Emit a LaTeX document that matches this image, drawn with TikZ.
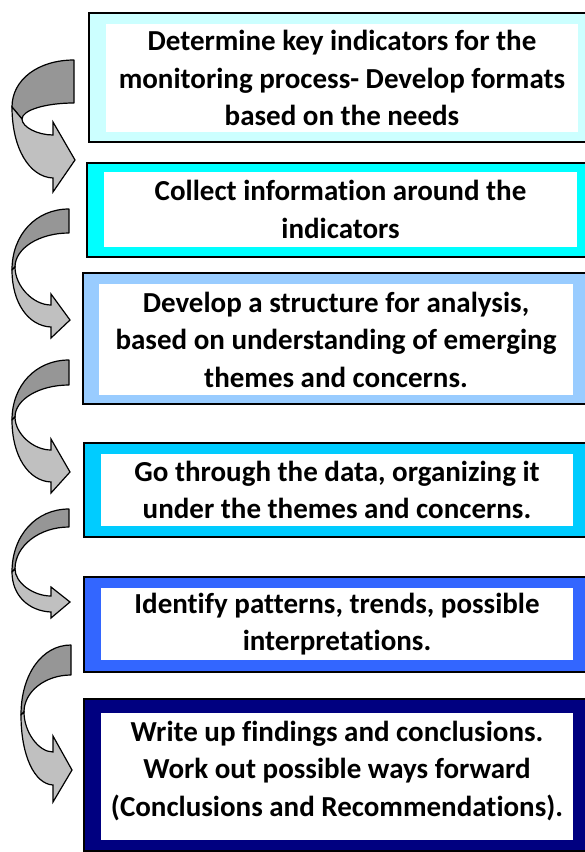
\documentclass[tikz,border=0pt]{standalone}
\usepackage{fontspec}
\setmainfont{Carlito}[Ligatures=NoCommon]
\definecolor{cA}{HTML}{CCFFFF}
\definecolor{cB}{HTML}{00FFFF}
\definecolor{cC}{HTML}{99CCFF}
\definecolor{cD}{HTML}{00CCFF}
\definecolor{cE}{HTML}{3366FF}
\definecolor{cF}{HTML}{000080}
\definecolor{arrback}{HTML}{969696}
\definecolor{arrfront}{HTML}{C0C0C0}
\newcommand\drawcurved{%
 \path[arrowback] (\cXt,\cYa) .. controls ({\cXt-0.58*(\cXt-\cXq)},\cYa) and (\cXq,{\cYq-0.58*(\cYq-\cYa)}) .. (\cXq,\cYq) -- (\cXp,\cYp) .. controls (\cXp,{\cYp-0.55*(\cYp-\cYb)}) and ({\cXt-0.55*(\cXt-\cXp)},\cYb) .. (\cXt,\cYb) -- cycle;
 \path[arrowfront] (\cXq,\cYq) .. controls (\cXq,{\cYq+0.58*(\cYo-\cYq)}) and ({\cXq+0.42*(\cXb-\cXq)},{\cYo-1}) .. (\cXb,\cYo) -- (\cXb,\cYbb) -- (\cXx,\cYx) -- (\cXb,\cYbt) -- (\cXb,\cYi) .. controls ({\cXb-0.5*(\cXb-\cXp)},\cYi) and (\cXp,{\cYp+0.5*(\cYi-\cYp)}) .. (\cXp,\cYp) -- cycle;
}
\newcommand\setarrow[7]{\def\cXt{#1}\def\cYa{#2}\def\cYb{#3}\def\cXq{#4}\def\cYq{#5}\def\cXp{#6}\def\cYp{#7}}
\newcommand\sethead[7]{\def\cXb{#1}\def\cYbt{#2}\def\cYi{#3}\def\cYo{#4}\def\cYbb{#5}\def\cXx{#6}\def\cYx{#7}}
\begin{document}
\begin{tikzpicture}[x=1pt,y=-1pt,
  frame/.style={draw=black,line width=1.8pt,anchor=north west,inner sep=0pt,outer sep=0pt},
  whitebox/.style={fill=white,anchor=north west,inner sep=0pt,outer sep=0pt,align=center,
    font=\fontsize{29}{37.5}\selectfont\bfseries},
  arrowback/.style={fill=arrback,draw=black,line width=1.2pt,line join=round},
  arrowfront/.style={fill=arrfront,draw=black,line width=1.2pt,line join=miter}]
\clip (0,0) rectangle (585,852);
\fill[white] (0,0) rectangle (585,852);
% box 1
\node (f1) [frame,fill=cA,minimum width=505pt,minimum height=129pt] at (89,13) {};
\node (w1) [whitebox,minimum width=472pt,minimum height=108pt] at (106,24)
  {Determine key indicators for the\\monitoring process- Develop formats\\based on the needs};
% box 2
\node (f2) [frame,fill=cB,minimum width=507pt,minimum height=94pt] at (87,163) {};
\node (w2) [whitebox,minimum width=473pt,minimum height=75pt] at (104,172)
  {Collect information around the\\indicators};
% box 3
\node (f3) [frame,fill=cC,minimum width=511pt,minimum height=131pt] at (83,273) {};
\node (w3) [whitebox,minimum width=474pt,minimum height=111pt] at (99,284)
  {Develop a structure for analysis,\\based on understanding of emerging\\themes and concerns.};
% box 4
\node (f4) [frame,fill=cD,minimum width=510pt,minimum height=94pt] at (84,443) {};
\node (w4) [whitebox,minimum width=472pt,minimum height=72pt] at (101,454)
  {Go through the data, organizing it\\under the themes and concerns.};
% box 5
\node (f5) [frame,fill=cE,minimum width=510pt,minimum height=95pt] at (84,577) {};
\node (w5) [whitebox,minimum width=472pt,minimum height=72pt] at (101,588)
  {Identify patterns, trends, possible\\interpretations.};
% box 6
\node (f6) [frame,fill=cF,minimum width=510pt,minimum height=152pt] at (84,699) {};
\node (w6) [whitebox,minimum width=472pt,minimum height=127pt] at (101,713) {};
\node (t6) [font=\fontsize{29}{37.5}\selectfont\bfseries,align=center,inner sep=0pt] at (337,771)
  {Write up findings and conclusions.\\Work out possible ways forward\\(Conclusions and Recommendations).};
% arrows
\setarrow{74}{60}{103}{12}{107}{22}{119}\sethead{53}{122}{135}{178}{192}{75}{160}\drawcurved
\setarrow{69}{209}{233}{12}{270}{15}{267}\sethead{51}{294}{305}{327}{338}{70}{320}\drawcurved
\setarrow{69}{360}{385}{12}{420}{15}{417}\sethead{51}{439}{450}{482}{493}{70}{472}\drawcurved
\setarrow{69}{509}{527}{12}{572}{15}{569}\sethead{51}{587}{596}{612}{618}{70}{602}\drawcurved
\setarrow{71}{645}{675}{21}{715}{24}{712}\sethead{53}{736}{752}{785}{802}{72}{770}\drawcurved
\end{tikzpicture}
\end{document}
